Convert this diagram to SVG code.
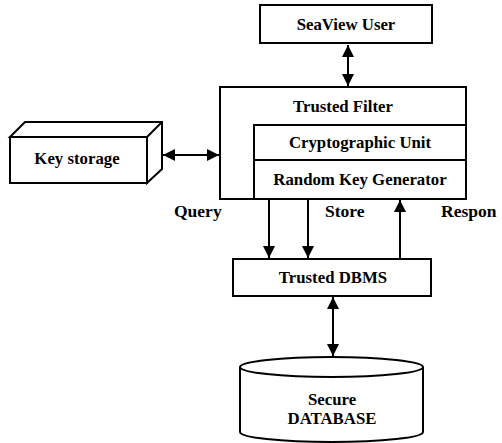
<svg xmlns="http://www.w3.org/2000/svg" width="502" height="443" viewBox="0 0 502 443">
<style>
.box{fill:#fff;stroke:#000;stroke-width:2}
.t{font-family:"Liberation Serif","Times New Roman",serif;font-weight:bold;font-size:16.8px;fill:#000;text-anchor:middle}
.lbl{font-family:"Liberation Serif","Times New Roman",serif;font-weight:bold;font-size:17.5px;fill:#000}
.c{stroke:#000;stroke-width:2;fill:none}
</style>
<defs>
<marker id="ah" viewBox="0 0 12 12" refX="12" refY="6" markerWidth="6" markerHeight="6" markerUnits="strokeWidth" orient="auto-start-reverse">
<path d="M0,0 L12,6 L0,12 Z" fill="#000"/>
</marker>
</defs>
<g id="seaview-user">
<rect class="box" x="260" y="5" width="172" height="38"/>
<text class="t" x="346" y="30">SeaView User</text>
</g>
<g id="trusted-filter">
<rect class="box" x="220" y="87" width="246" height="112"/>
<text class="t" x="343" y="112">Trusted Filter</text>
</g>
<g id="cryptographic-unit">
<rect class="box" x="254" y="125" width="212" height="35"/>
<text class="t" x="360" y="148">Cryptographic Unit</text>
</g>
<g id="random-key-generator">
<rect class="box" x="254" y="160" width="212" height="39"/>
<text class="t" x="360" y="185">Random Key Generator</text>
</g>
<g id="key-storage">
<path class="box" d="M10,137 L25,122 L162,122 L162,169 L147,183 L147,137 Z"/>
<path class="c" d="M147,137 L162,122"/>
<rect class="box" x="10" y="137" width="137" height="46"/>
<text class="t" x="77" y="164">Key storage</text>
</g>
<g id="trusted-dbms">
<rect class="box" x="233" y="259" width="198" height="37"/>
<text class="t" x="333" y="283">Trusted DBMS</text>
</g>
<g id="secure-database">
<path class="box" d="M240,367 L240,432 A91.5,10 0 0 0 423,432 L423,367"/>
<ellipse class="box" cx="331.5" cy="367" rx="91.5" ry="10"/>
<text class="t" x="332" y="405">Secure</text>
<text class="t" x="332" y="424">DATABASE</text>
</g>
<g id="connectors">
<line class="c" x1="348" y1="45" x2="348" y2="86" marker-start="url(#ah)" marker-end="url(#ah)"/>
<line class="c" x1="163" y1="155" x2="219" y2="155" marker-start="url(#ah)" marker-end="url(#ah)"/>
<line class="c" x1="269" y1="200" x2="269" y2="258" marker-end="url(#ah)"/>
<line class="c" x1="308" y1="200" x2="308" y2="258" marker-end="url(#ah)"/>
<line class="c" x1="400" y1="259" x2="400" y2="200" marker-end="url(#ah)"/>
<line class="c" x1="333" y1="297" x2="333" y2="356" marker-start="url(#ah)" marker-end="url(#ah)"/>
<text class="lbl" x="174" y="217">Query</text>
<text class="lbl" x="325" y="217">Store</text>
<text class="lbl" x="441" y="217">Respon</text>
</g>
</svg>
